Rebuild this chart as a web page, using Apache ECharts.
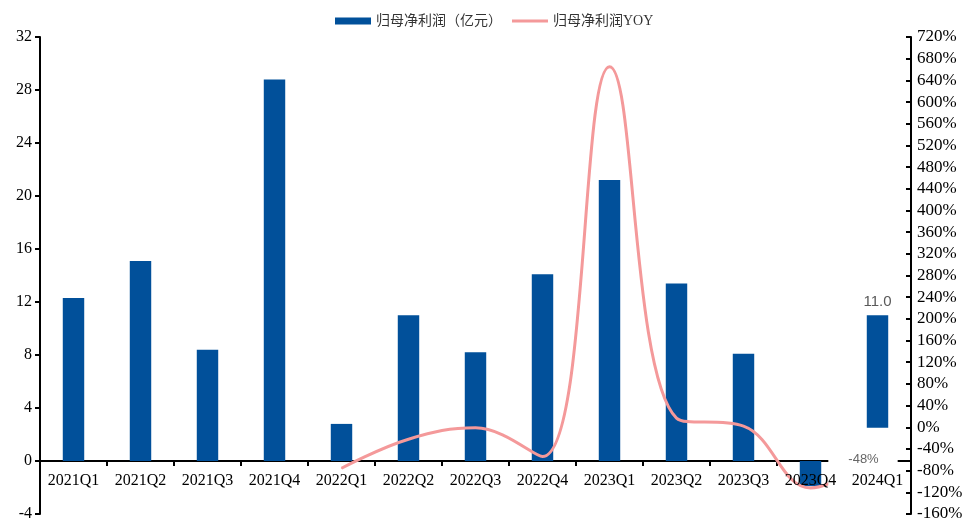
<!DOCTYPE html>
<html>
<head>
<meta charset="utf-8">
<script src="https://cdn.jsdelivr.net/npm/echarts@6/dist/echarts.min.js"></script>
<style>
  html, body { margin: 0; padding: 0; background: #fff; }
  #chart { width: 967px; height: 518px; }
</style>
</head>
<body>
<div id="chart"></div>
<script>
// Quarterly attributable net profit (100m CNY) and its year-over-year change
const quarters = ['2021Q1', '2021Q2', '2021Q3', '2021Q4', '2022Q1', '2022Q2', '2022Q3',
                  '2022Q4', '2023Q1', '2023Q2', '2023Q3', '2023Q4', '2024Q1'];
const profit = [12.3, 15.1, 8.4, 28.8, 2.8, 11.0, 8.2, 14.1, 21.2, 13.4, 8.1, -1.9, 11.0];
const yoy = [null, null, null, null, -75.6, -22, -1, -54, 665, 17, 2, -112, -48];

const profitName = '归母净利润（亿元）';
const yoyName = '归母净利润YOY';

const serif = '"Liberation Serif", "Times New Roman", "Noto Sans CJK SC", serif';
const sans = '"Liberation Sans", Arial, sans-serif';
const last = quarters.length - 1;
const pink = '#F4999A';

const leftMin = -4, leftMax = 32, leftStep = 4;
const gridTop = 37, gridBottom = 4, chartHeight = 518;

// only the latest quarter carries value labels
const profitData = profit.map((v, i) => i === last ? {
  value: v,
  label: {
    show: true, position: 'top', distance: 6,
    color: '#595959', fontSize: 15, fontFamily: sans,
    formatter: p => p.value.toFixed(1)
  }
} : v);

const yoyData = yoy.map((v, i) => i === last ? {
  value: v,
  label: {
    show: true, position: 'inside', offset: [-14.5, 6.5],
    align: 'center', verticalAlign: 'middle',
    color: '#666', fontSize: 13, fontFamily: sans, lineHeight: 13,
    backgroundColor: '#fff',
    padding: [22, 19, 29, 20],
    formatter: p => p.value + '%'
  }
} : v);

// the label axis sits on the zero line of the left value axis
const plotHeight = chartHeight - gridTop - gridBottom;
const zeroShift = -plotHeight * (0 - leftMin) / (leftMax - leftMin);

const chart = echarts.init(document.getElementById('chart'), null, { renderer: 'canvas' });
chart.setOption({
  animation: false,
  backgroundColor: '#fff',
  legend: {
    top: 9,
    left: 330,
    itemWidth: 36,
    itemHeight: 7,
    itemGap: 10,
    textStyle: { fontSize: 14, color: '#333', fontFamily: serif },
    data: [
      { name: profitName, icon: 'rect' },
      { name: yoyName, icon: 'path://M0,0L36,0L36,3L0,3Z', itemStyle: { color: pink } }
    ]
  },
  grid: { left: 40, right: 56, top: gridTop, bottom: gridBottom, containLabel: false, outerBoundsMode: 'none' },
  xAxis: [
    {
      type: 'category',
      data: quarters,
      position: 'bottom',
      axisLine: { onZero: true, onZeroAxisIndex: 0, lineStyle: { color: '#000', width: 2 } },
      axisTick: { show: true, length: 5, lineStyle: { color: '#000', width: 2 } },
      axisLabel: { show: false },
      splitLine: { show: false }
    },
    {
      type: 'category',
      data: quarters,
      position: 'bottom',
      offset: zeroShift,
      z: 10,
      axisLine: { show: false, onZero: false },
      axisTick: { show: false },
      axisLabel: { show: true, margin: 12, fontSize: 16, color: '#000', fontFamily: serif, interval: 0 },
      splitLine: { show: false }
    }
  ],
  yAxis: [
    {
      type: 'value',
      min: leftMin, max: leftMax, interval: leftStep,
      axisLine: { show: true, lineStyle: { color: '#000', width: 2 } },
      axisTick: { show: true, length: 5, lineStyle: { color: '#000', width: 2 } },
      axisLabel: { fontSize: 16, color: '#000', fontFamily: serif, margin: 8 },
      splitLine: { show: false }
    },
    {
      type: 'value',
      position: 'right',
      min: -160, max: 720, interval: 40,
      axisLine: { show: true, lineStyle: { color: '#000', width: 2 } },
      axisTick: { show: true, inside: true, length: 5, lineStyle: { color: '#000', width: 2 } },
      axisLabel: { fontSize: 17, color: '#000', fontFamily: serif, margin: 6, formatter: '{value}%' },
      splitLine: { show: false }
    }
  ],
  series: [
    {
      name: profitName,
      type: 'bar',
      xAxisIndex: 0,
      yAxisIndex: 0,
      barWidth: '32%',
      z: 2,
      itemStyle: { color: '#01509A' },
      data: profitData
    },
    {
      name: yoyName,
      type: 'line',
      xAxisIndex: 0,
      yAxisIndex: 1,
      z: 3,
      smooth: 0.4,
      symbol: 'circle',
      symbolSize: 1,
      showSymbol: true,
      connectNulls: false,
      lineStyle: { color: pink, width: 3 },
      itemStyle: { color: pink },
      data: yoyData
    }
  ]
});
</script>
</body>
</html>
